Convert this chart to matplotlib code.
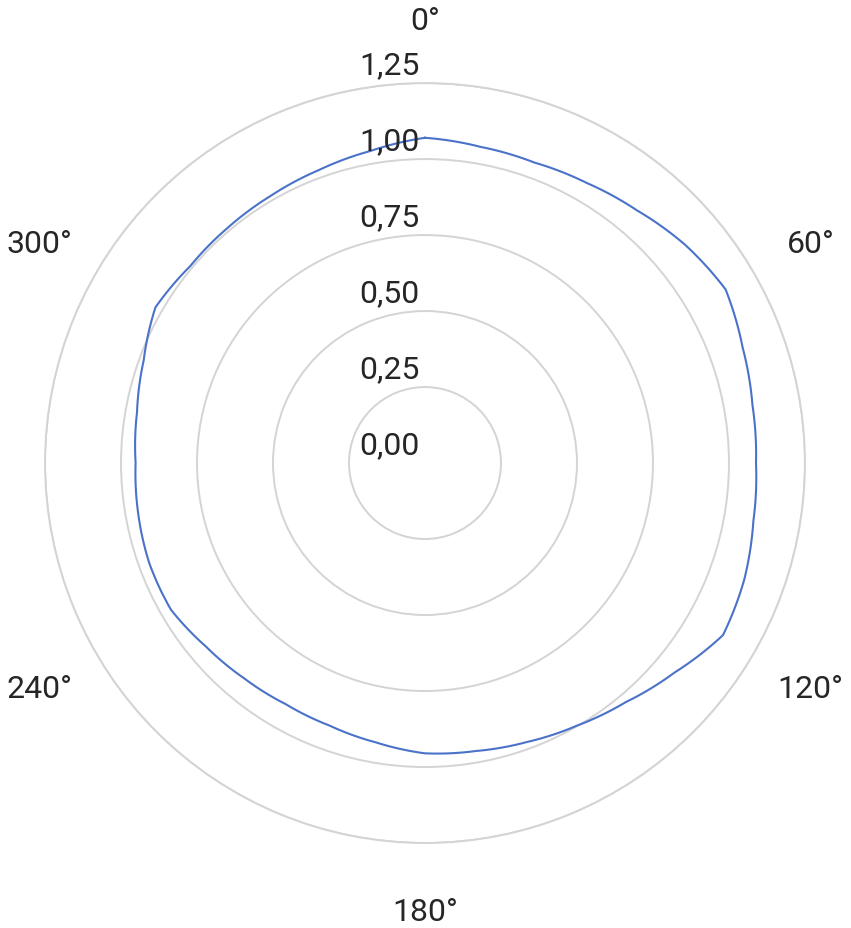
import numpy as np
import matplotlib
matplotlib.use('Agg')
import matplotlib.pyplot as plt

# Values every 10 degrees (closed at 360)
angles_deg = [0, 10, 20, 30, 40, 50, 60, 70, 80, 90, 100, 110, 120,
              130, 140, 150, 160, 170, 180, 190, 200, 210, 220, 230, 240,
              250, 260, 270, 280, 290, 300, 310, 320, 330, 340, 350, 360]
radii = [1.070, 1.056, 1.052, 1.064, 1.085, 1.117, 1.142, 1.112, 1.094, 1.089, 1.097, 1.118, 1.132,
         1.072, 1.027, 0.998, 0.977, 0.962, 0.955, 0.933, 0.919, 0.916, 0.925, 0.940, 0.965,
         0.965, 0.958, 0.952, 0.962, 0.985, 1.024, 1.008, 1.010, 1.015, 1.025, 1.042, 1.070]

r_ticks = [0.0, 0.25, 0.5, 0.75, 1.0, 1.25]
r_tick_labels = ['0,00', '0,25', '0,50', '0,75', '1,00', '1,25']
theta_ticks = [0, 60, 120, 180, 240, 300]
theta_labels = ['0°', '60°', '120°', '180°', '240°', '300°']

plt.rcParams['font.family'] = ['Roboto', 'DejaVu Sans']
text_color = '#262626'
grid_color = '#d4d4d4'

fig = plt.figure(figsize=(8.51, 9.29), dpi=100)
ax = fig.add_axes([0.0529, 0.0915, 0.893, 0.818], projection='polar')
ax.set_theta_zero_location('N')
ax.set_theta_direction(-1)
ax.set_ylim(0, 1.25)

# Radial grid circles
ax.set_yticks(r_ticks[1:])
ax.set_yticklabels([])
ax.yaxis.grid(True, color=grid_color, linewidth=1.4)
ax.xaxis.grid(False)
ax.set_xticks(np.deg2rad(theta_ticks))
ax.set_xticklabels([])
ax.tick_params(length=0)
ax.spines['polar'].set_color(grid_color)
ax.spines['polar'].set_linewidth(1.4)

# The data line, segments follow the polar coordinates (curved between points)
line, = ax.plot(np.deg2rad(angles_deg), radii, color='#4a72c8', linewidth=1.5)
line.get_path()._interpolation_steps = 20

# Radial labels above each circle along 0 degrees
for r, lab in zip(r_ticks, r_tick_labels):
    ax.annotate(lab, xy=(0, r), xytext=(-4, 7), textcoords='offset points',
                ha='right', va='baseline', fontsize=23, color=text_color,
                annotation_clip=False)

# Angle labels outside the outer circle
for t, lab in zip(theta_ticks, theta_labels):
    ax.text(np.deg2rad(t), 1.465, lab, ha='center', va='center_baseline',
            fontsize=23, color=text_color, clip_on=False)

fig.savefig('out.png', dpi=100)
